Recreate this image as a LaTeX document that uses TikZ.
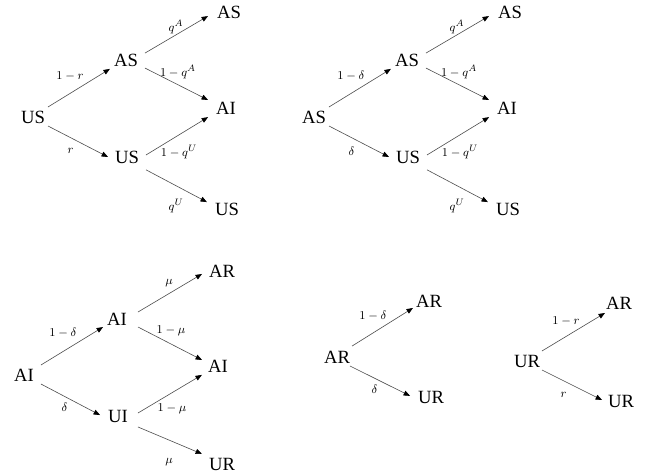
\documentclass[tikz,border=0pt]{standalone}
\usepackage{fontspec}
\setmainfont{Liberation Serif}
\usetikzlibrary{arrows.meta}
\newcommand\conn[6]{\draw[arr] ([shift={(#2:#3)}]#1.center) -- ([shift={(#5:#6)}]#4.center);}
\begin{document}
\begin{tikzpicture}[x=0.75pt,y=0.75pt,
  st/.style={font=\fontsize{14}{16}\selectfont, inner sep=0pt},
  lb/.style={font=\fontsize{9.5}{11}\selectfont, inner sep=0pt},
  arr/.style={-{Triangle[length=4.8pt,width=3.8pt,color=black,fill=black]}, line width=0.45pt, draw=black!70}]
\useasboundingbox (0,0) rectangle (647,474);
% Tree 1
\node[st] (r1) at (33,357) {US};
\node[st] (a1) at (126,414) {AS};
\node[st] (b1) at (127,317) {US};
\node[st] (c1) at (229,462) {AS};
\node[st] (d1) at (226,366) {AI};
\node[st] (e1) at (227,265) {US};
\conn{r1}{33.7}{18}{a1}{209}{18.4}
\conn{r1}{-31}{17.5}{b1}{180}{19}
\conn{a1}{20}{20.2}{c1}{191}{21.4}
\conn{a1}{-23}{20.6}{d1}{156}{19.7}
\conn{b1}{6}{19.1}{d1}{207}{20.1}
\conn{b1}{-34}{23}{e1}{161}{21.2}
\node[lb] (l1a) at (70,398) {$1-r$};
\node[lb] (l1b) at (70.5,323) {$r$};
\node[lb] (l1c) at (176,447) {$q^A$};
\node[lb] (l1d) at (178,402) {$1-q^A$};
\node[lb] (l1e) at (179,322) {$1-q^U$};
\node[lb] (l1f) at (176,268) {$q^U$};
% Tree 2
\node[st] (r2) at (314,357) {AS};
\node[st] (a2) at (407,414) {AS};
\node[st] (b2) at (408,317) {US};
\node[st] (c2) at (510,462) {AS};
\node[st] (d2) at (507,366) {AI};
\node[st] (e2) at (508,265) {US};
\conn{r2}{33.7}{18}{a2}{209}{18.4}
\conn{r2}{-31}{17.5}{b2}{180}{19}
\conn{a2}{20}{20.2}{c2}{191}{21.4}
\conn{a2}{-23}{20.6}{d2}{156}{19.7}
\conn{b2}{6}{19.1}{d2}{207}{20.1}
\conn{b2}{-34}{23}{e2}{161}{21.2}
\node[lb] (l2a) at (351,398) {$1-\delta$};
\node[lb] (l2b) at (351.5,323) {$\delta$};
\node[lb] (l2c) at (457,447) {$q^A$};
\node[lb] (l2d) at (459,402) {$1-q^A$};
\node[lb] (l2e) at (460,322) {$1-q^U$};
\node[lb] (l2f) at (457,268) {$q^U$};
% Tree 3
\node[st] (r3) at (24,99) {AI};
\node[st] (a3) at (117,155) {AI};
\node[st] (b3) at (118,58) {UI};
\node[st] (c3) at (222,203) {AR};
\node[st] (d3) at (218,108) {AI};
\node[st] (e3) at (222,10) {UR};
\conn{r3}{30.5}{19.7}{a3}{210}{16.1}
\conn{r3}{-28}{19.2}{b3}{177}{18}
\conn{a3}{18.4}{22.1}{c3}{188.5}{20.2}
\conn{a3}{-20.9}{22.5}{d3}{159.4}{17.1}
\conn{b3}{8.5}{20.2}{d3}{209}{18.4}
\conn{b3}{-28.8}{22.8}{e3}{153.4}{22.4}
\node[lb] (l3a) at (63,141) {$1-\delta$};
\node[lb] (l3b) at (64.5,67) {$\delta$};
\node[lb] (l3c) at (169,191) {$\mu$};
\node[lb] (l3d) at (171,143) {$1-\mu$};
\node[lb] (l3e) at (172,65) {$1-\mu$};
\node[lb] (l3f) at (169,12) {$\mu$};
% Tree 4
\node[st] (r4) at (337,117) {AR};
\node[st] (a4) at (429,173) {AR};
\node[st] (b4) at (431,77) {UR};
\conn{r4}{36}{18.6}{a4}{203.6}{17.5}
\conn{r4}{-34.7}{15.8}{b4}{177}{21}
\node[lb] (l4a) at (373,158) {$1-\delta$};
\node[lb] (l4b) at (374.5,85) {$\delta$};
% Tree 5
\node[st] (r5) at (527,113) {UR};
\node[st] (a5) at (619,171) {AR};
\node[st] (b5) at (621,73) {UR};
\conn{r5}{33.7}{18}{a5}{215.5}{17.2}
\conn{r5}{-31}{17.5}{b5}{177}{19}
\node[lb] (l5a) at (566,153) {$1-r$};
\node[lb] (l5b) at (563.5,79) {$r$};
\end{tikzpicture}
\end{document}
